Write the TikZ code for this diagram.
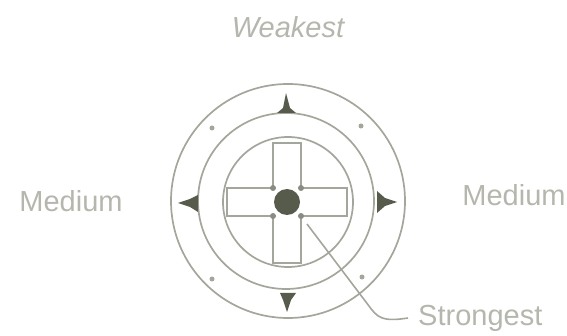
\documentclass[tikz,border=0pt]{standalone}
\usepackage{fontspec}
\setmainfont{Liberation Sans}
\usepackage{xcolor}
\definecolor{inkdark}{HTML}{565B4C}
\definecolor{inkline}{HTML}{A3A69B}
\definecolor{inktext}{HTML}{B4B7AD}
\tikzset{
  ring/.style={circle, draw=inkline, line width=1.7pt, minimum size=#1, inner sep=0pt},
  pointer/.style={fill=inkdark, draw=none},
  label/.style={text=inktext, font=\fontsize{29}{32}\selectfont, inner sep=0pt},
  speck/.style={circle, fill=inkline, minimum size=5pt, inner sep=0pt}
}
\begin{document}
\begin{tikzpicture}[x=1pt, y=-1pt]
\useasboundingbox (0,0) rectangle (567,336);
\node[ring=234pt] (outer) at (288,201) {};
\node[ring=176pt] (middle) at (286,201) {};
\node[ring=130pt] (inner) at (288,202) {};
% cross
\draw[inkline, line width=2pt, line join=miter] (273,143) -- (301,143) -- (301,188) -- (347,188) -- (347,216) -- (301,216) -- (301,263) -- (273,263) -- (273,216) -- (227,216) -- (227,188) -- (273,188) -- cycle;
\node[circle, fill=inkdark, minimum size=26pt, inner sep=0pt] (hub) at (287,202) {};
\foreach \cx/\cy in {273/188, 301/188, 273/216, 301/216} {
  \fill[inkdark!70] (\cx,\cy) circle (3pt);
}
% pointers
\fill[pointer] (286,93) -- (290,108) -- (296,113) -- (277,113) -- (283,108) -- cycle;
\fill[pointer] (287,312) -- (283,300) -- (280,293) -- (296,293) -- (291,300) -- cycle;
\fill[pointer] (178,203) -- (190,199) -- (198,195) -- (198,212) -- (190,207) -- cycle;
\fill[pointer] (397,202) -- (385,198) -- (377,191) -- (377,213) -- (385,206) -- cycle;
% specks
\node[speck] (s1) at (212,128) {};
\node[speck] (s2) at (361,126) {};
\node[speck] (s3) at (212,279) {};
\node[speck] (s4) at (362,277) {};
% labels
\node[label] (weakest) at (288,27) {\itshape Weakest};
\node[label] (medleft) at (71,201) {Medium};
\node[label] (medright) at (514,195) {Medium};
\node[label, anchor=west, inner xsep=10pt] (strongest) at (408,318) {Strongest};
\coordinate (leadstart) at (307,224);
\coordinate (leadbend) at (372,310);
\draw[inkline, line width=1.6pt] (leadstart) -- (leadbend) .. controls (380,320) and (388,321) .. (strongest.west);
\end{tikzpicture}
\end{document}
